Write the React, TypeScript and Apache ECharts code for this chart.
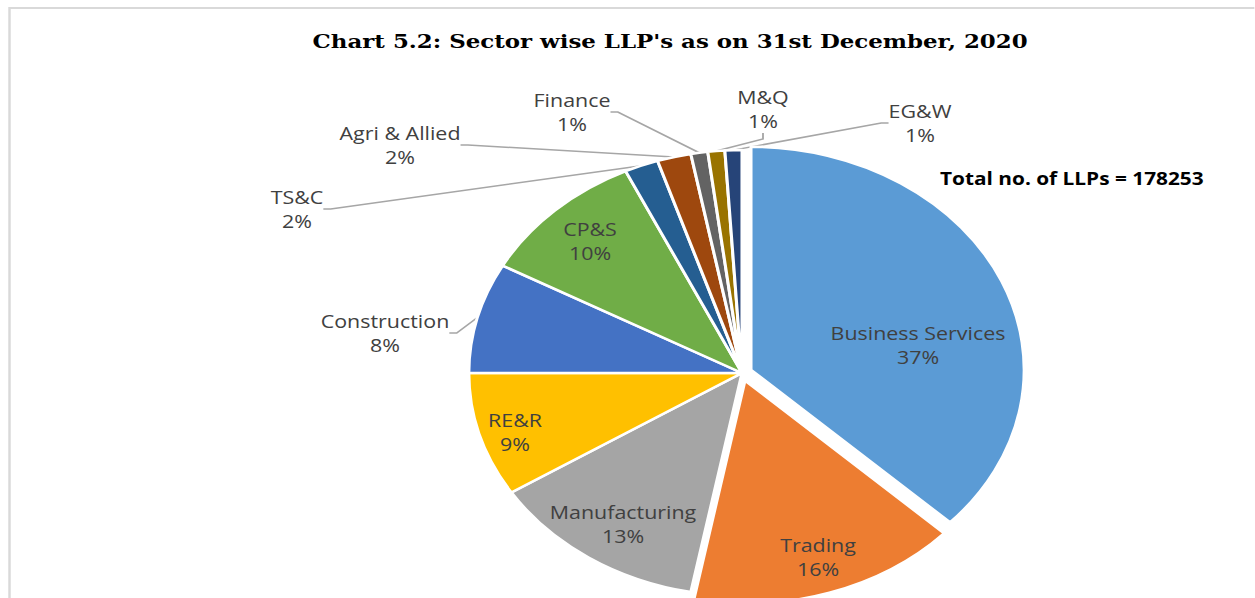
import { useEffect, useRef } from "react";
import * as echarts from "echarts";

// ---- data ----
const sectors = [
  "Business Services",
  "Trading",
  "Manufacturing",
  "RE&R",
  "Construction",
  "CP&S",
  "TS&C",
  "Agri & Allied",
  "Finance",
  "M&Q",
  "EG&W",
];
const sharePct = [37, 16, 13, 9, 8, 10, 2, 2, 1, 1, 1];
const titleText = "Chart 5.2: Sector wise LLP's as on 31st December, 2020";
const totalText = "Total no. of LLPs = 178253";

// ---- styling / layout ----
const colors = [
  "#5B9BD5",
  "#ED7D31",
  "#A5A5A5",
  "#FFC000",
  "#4472C4",
  "#70AD47",
  "#255E91",
  "#9E480E",
  "#636363",
  "#997300",
  "#264478",
];
const insideLabel = [true, true, true, true, false, true, false, false, false, false, false];
const exploded = [true, true, false, false, false, false, false, false, false, false, false];
// horizontal stretch of the whole picture
const SX = 1.225;
// label block centres, in picture pixels
const labelAt: [number, number][] = [
  [918, 345],
  [818, 557],
  [623, 524],
  [515, 432],
  [385, 333],
  [590, 241],
  [297, 209],
  [400, 145],
  [572, 112],
  [763, 109],
  [920, 123],
];

const TRANSPARENT = "rgba(0,0,0,0)";
const pieCenter = [742 / SX, 373];
const pieRadius = 223;

export default function App() {
  const ref = useRef<HTMLDivElement>(null);

  useEffect(() => {
    if (!ref.current) return;
    const chart = echarts.init(ref.current, undefined, { renderer: "svg" });
    const common = {
      type: "pie",
      center: pieCenter,
      radius: pieRadius,
      startAngle: 90,
      clockwise: true,
      avoidLabelOverlap: false,
      percentPrecision: 0,
      emphasis: { disabled: true, scale: false },
    };
    const option: any = {
      animation: false,
      backgroundColor: "#ffffff",
      title: {
        text: titleText,
        left: 664 / SX,
        top: 27,
        textAlign: "center",
        textStyle: {
          fontFamily: "DejaVu Serif",
          fontWeight: "bold",
          fontSize: 18.7,
          color: "#000000",
        },
      },
      graphic: [
        {
          type: "rect",
          silent: true,
          z: -1,
          shape: { x: 9.5 / SX, y: 8, width: 3000, height: 2000 },
          style: { fill: "none", stroke: "#d9d9d9", lineWidth: 2 },
        },
        {
          type: "text",
          x: 940 / SX,
          y: 179,
          style: {
            text: totalText,
            fill: "#000000",
            fontFamily: "Open Sans",
            fontWeight: "bold",
            fontSize: 17,
            verticalAlign: "middle",
            textVerticalAlign: "middle",
          },
        },
      ],
      series: [
        // exploded slices (no labels)
        {
          ...common,
          name: "exploded",
          silent: true,
          selectedMode: "multiple",
          selectedOffset: 8,
          itemStyle: { borderColor: "#ffffff", borderWidth: 2.5 },
          label: { show: false },
          labelLine: { show: false },
          data: sectors.map((name, i) => ({
            name,
            value: sharePct[i],
            selected: exploded[i],
            itemStyle: exploded[i]
              ? { color: colors[i] }
              : { color: TRANSPARENT, borderColor: TRANSPARENT, borderWidth: 0 },
          })),
        },
        // the rest of the slices and every label
        {
          ...common,
          name: "sectors",
          itemStyle: { borderColor: "#ffffff", borderWidth: 2.5 },
          label: {
            show: true,
            formatter: "{b}\n{d}%",
            color: "#404040",
            opacity: 1,
            fontFamily: "Open Sans",
            fontSize: 17.5,
            lineHeight: 24,
            align: "center",
          },
          labelLine: {
            show: true,
            length: 10,
            length2: 6,
            lineStyle: { color: "#a6a6a6", width: 1.5, opacity: 1 },
          },
          labelLayout: (p: any) => {
            const pos = labelAt[p.dataIndex];
            return { x: pos[0] / SX, y: pos[1], align: "center", verticalAlign: "middle" };
          },
          data: sectors.map((name, i) => ({
            name,
            value: sharePct[i],
            itemStyle: exploded[i]
              ? { color: TRANSPARENT, borderColor: TRANSPARENT, borderWidth: 0 }
              : { color: colors[i] },
            label: { position: insideLabel[i] ? "inside" : "outside" },
            labelLine: { show: !insideLabel[i] },
          })),
        },
      ],
    };
    chart.setOption(option);
    return () => chart.dispose();
  }, []);

  return (
    <div
      style={{
        position: "fixed",
        left: 0,
        top: 0,
        width: 1255,
        height: 598,
        overflow: "hidden",
        background: "#ffffff",
      }}
    >
      <div
        ref={ref}
        style={{
          width: 1255 / SX,
          height: 598,
          transform: `scaleX(${SX})`,
          transformOrigin: "0 0",
        }}
      />
    </div>
  );
}
